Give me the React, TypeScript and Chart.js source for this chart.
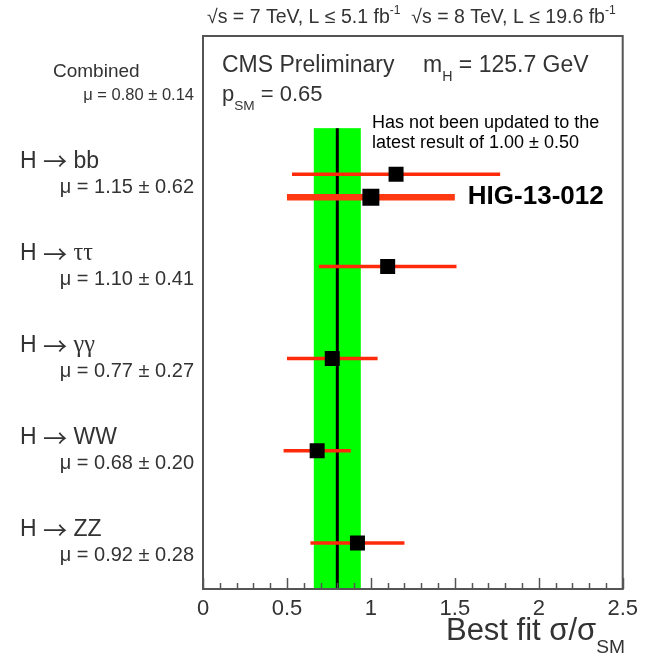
import { useEffect, useRef } from 'react';
import { Chart, registerables } from 'chart.js';

Chart.register(...registerables);

// Signal strength per decay channel (row 0 is the combined fit)
const channelNames = ['Combined', 'H → bb', 'H → ττ', 'H → γγ', 'H → WW', 'H → ZZ'];
const muValues = [0.8, 1.15, 1.1, 0.77, 0.68, 0.92];
const muErrors = [0.14, 0.62, 0.41, 0.27, 0.2, 0.28];
const rowPositions = [0, 1, 2, 3, 4, 5];

// Updated bb result, drawn just under the bb row
const updatedValue = 1.0;
const updatedError = 0.5;
const updatedRow = 1.25;
const updatedLabel = 'HIG-13-012';
const updatedNote = ['Has not been updated to the', 'latest result of 1.00 ± 0.50'];

const xTickValues = [0, 0.5, 1, 1.5, 2, 2.5];
const xTickLabels = ['0', '0.5', '1', '1.5', '2', '2.5'];

const FONT = '"Liberation Sans", Arial, Helvetica, sans-serif';
const ARROW_FONT = '"Noto Sans CJK JP", "DejaVu Sans", sans-serif';
const GREEK_FONT = '"Liberation Serif", "DejaVu Serif", serif';
const TEXT_GRAY = '#333333';
const BAR_RED = '#ff2a0a';
const BAND_GREEN = '#00ff00';

type Part = { t: string; sub?: boolean; sup?: boolean; font?: string; scale?: number; drop?: number };

function drawRich(
  ctx: CanvasRenderingContext2D,
  parts: Part[],
  x: number,
  y: number,
  size: number,
  color: string,
  align: 'left' | 'right' = 'left',
  weight = 'normal',
) {
  ctx.save();
  ctx.fillStyle = color;
  ctx.textBaseline = 'middle';
  ctx.textAlign = 'left';
  const sizeOf = (p: Part) => (p.sub || p.sup ? size * 0.62 : size) * (p.scale ?? 1);
  const widths = parts.map((p) => {
    ctx.font = `${weight} ${sizeOf(p)}px ${p.font ?? FONT}`;
    return ctx.measureText(p.t).width;
  });
  const total = widths.reduce((a, b) => a + b, 0);
  let cx = align === 'right' ? x - total : x;
  parts.forEach((p, i) => {
    ctx.font = `${weight} ${sizeOf(p)}px ${p.font ?? FONT}`;
    const dy = p.drop ?? (p.sub ? size * 0.5 : p.sup ? -size * 0.38 : 0);
    ctx.fillText(p.t, cx, y + dy);
    cx += widths[i];
  });
  ctx.restore();
}

// "H → xx" with the arrow and Greek letters set in their own fonts
function channelParts(name: string): Part[] {
  const [head, tail] = name.split(' → ');
  const greek = /[τγ]/.test(tail);
  return [
    { t: head + ' ' },
    { t: '→', font: ARROW_FONT, scale: 1.05 },
    { t: ' ' },
    { t: tail, font: greek ? GREEK_FONT : FONT, scale: greek ? 1.05 : 1 },
  ];
}

const overlayPlugin = {
  id: 'muOverlay',
  beforeDatasetsDraw(chart: any) {
    const { ctx, scales } = chart;
    const xs = scales.x;
    const ys = scales.y;
    // combined 1-sigma band
    const c = muValues[0];
    const e = muErrors[0];
    const x0 = xs.getPixelForValue(c - e);
    const x1 = xs.getPixelForValue(c + e);
    const y0 = ys.getPixelForValue(0.5);
    const y1 = ys.getPixelForValue(5.5);
    ctx.save();
    ctx.fillStyle = BAND_GREEN;
    ctx.fillRect(x0, y0, x1 - x0, y1 - y0);
    ctx.restore();
  },
  afterDraw(chart: any) {
    const { ctx, chartArea, scales } = chart;
    const xs = scales.x;
    const ys = scales.y;
    const { left, right, top, bottom } = chartArea;

    // frame
    ctx.save();
    ctx.strokeStyle = '#555555';
    ctx.lineWidth = 2;
    ctx.strokeRect(left, top, right - left, bottom - top);

    // inward ticks on the x axis
    ctx.lineWidth = 1.5;
    for (let i = 0; i <= 25; i++) {
      const v = i / 10;
      const px = Math.round(xs.getPixelForValue(v)) + 0.5;
      const len = i % 5 === 0 ? 11 : 6;
      ctx.beginPath();
      ctx.moveTo(px, bottom);
      ctx.lineTo(px, bottom - len);
      ctx.stroke();
    }
    ctx.restore();

    // header
    drawRich(
      ctx,
      [
        { t: '√s = 7 TeV, L ≤ 5.1 fb' },
        { t: '-1', sup: true },
        { t: '  √s = 8 TeV, L ≤ 19.6 fb' },
        { t: '-1', sup: true },
      ],
      207,
      18,
      19.5,
      TEXT_GRAY,
    );

    // labels inside the frame
    drawRich(ctx, [{ t: 'CMS Preliminary' }], 222, 66, 23, TEXT_GRAY);
    drawRich(ctx, [{ t: 'm' }, { t: 'H', sub: true }, { t: ' = 125.7 GeV' }], 423, 66, 23, TEXT_GRAY);
    drawRich(ctx, [{ t: 'p' }, { t: 'SM', sub: true }, { t: ' = 0.65' }], 222, 95, 22, TEXT_GRAY);

    updatedNote.forEach((line, i) => {
      drawRich(ctx, [{ t: line }], 372, 123 + i * 20, 18, '#000000');
    });
    drawRich(
      ctx,
      [{ t: updatedLabel }],
      xs.getPixelForValue(updatedValue + updatedError) + 13,
      ys.getPixelForValue(updatedRow),
      26,
      '#000000',
      'left',
      'bold',
    );

    // channel labels on the left
    channelNames.forEach((name, i) => {
      const py = ys.getPixelForValue(rowPositions[i]);
      const muText = `μ = ${muValues[i].toFixed(2)} ± ${muErrors[i].toFixed(2)}`;
      if (i === 0) {
        drawRich(ctx, [{ t: name }], 53, py - 10, 19, TEXT_GRAY);
        drawRich(ctx, [{ t: muText }], 194, py + 13, 16.5, TEXT_GRAY, 'right');
      } else {
        drawRich(ctx, channelParts(name), 20, py - 13, 23, TEXT_GRAY);
        drawRich(ctx, [{ t: muText }], 194, py + 13, 20, TEXT_GRAY, 'right');
      }
    });

    // x axis title
    drawRich(
      ctx,
      [{ t: 'Best fit σ/σ' }, { t: 'SM', sub: true, drop: 17 }],
      625,
      631,
      31,
      TEXT_GRAY,
      'right',
    );
  },
};

export default function App() {
  const canvasRef = useRef<HTMLCanvasElement | null>(null);

  useEffect(() => {
    if (!canvasRef.current) return;

    const errorBarSets = rowPositions.slice(1).map((row, k) => {
      const i = k + 1;
      return {
        type: 'line' as const,
        data: [
          { x: muValues[i] - muErrors[i], y: row },
          { x: muValues[i] + muErrors[i], y: row },
        ],
        borderColor: BAR_RED,
        borderWidth: 3.5,
        pointRadius: 0,
        order: 2,
      };
    });

    const chart = new Chart(canvasRef.current, {
      type: 'scatter',
      data: {
        datasets: [
          {
            type: 'scatter',
            data: rowPositions.slice(1).map((row, k) => ({ x: muValues[k + 1], y: row })),
            pointStyle: 'rect',
            pointRadius: 10.6,
            backgroundColor: '#000000',
            borderColor: '#000000',
            borderWidth: 0,
            order: 0,
          },
          {
            type: 'scatter',
            data: [{ x: updatedValue, y: updatedRow }],
            pointStyle: 'rect',
            pointRadius: 12,
            backgroundColor: '#000000',
            borderColor: '#000000',
            borderWidth: 0,
            order: 0,
          },
          ...errorBarSets,
          {
            type: 'line',
            data: [
              { x: updatedValue - updatedError, y: updatedRow },
              { x: updatedValue + updatedError, y: updatedRow },
            ],
            borderColor: '#ff3a12',
            borderWidth: 6.5,
            pointRadius: 0,
            order: 2,
          },
          {
            type: 'line',
            data: [
              { x: muValues[0], y: 0.5 },
              { x: muValues[0], y: 5.5 },
            ],
            borderColor: '#000000',
            borderWidth: 3,
            pointRadius: 0,
            order: 3,
          },
        ] as any,
      },
      options: {
        animation: false,
        responsive: false,
        events: [],
        layout: { padding: { left: 203, right: 21, top: 36, bottom: 0 } },
        plugins: {
          legend: { display: false },
          tooltip: { enabled: false },
        },
        scales: {
          x: {
            type: 'linear',
            min: 0,
            max: 2.5,
            afterBuildTicks: (scale: any) => {
              scale.ticks = xTickValues.map((v) => ({ value: v }));
            },
            afterFit: (scale: any) => {
              scale.height = 69;
            },
            grid: { display: false, drawTicks: false },
            border: { display: false },
            ticks: {
              autoSkip: false,
              maxRotation: 0,
              padding: 7,
              color: TEXT_GRAY,
              font: { size: 22, family: FONT },
              callback: (v: any) => {
                const idx = xTickValues.indexOf(Number(v));
                return idx >= 0 ? xTickLabels[idx] : '';
              },
            },
          },
          y: {
            type: 'linear',
            min: -0.5,
            max: 5.5,
            reverse: true,
            display: false,
          },
        },
      },
      plugins: [overlayPlugin],
    });

    return () => chart.destroy();
  }, []);

  return (
    <div style={{ position: 'absolute', left: 0, top: 0, width: 645, height: 658, background: '#ffffff' }}>
      <canvas ref={canvasRef} width={645} height={658} style={{ display: 'block' }} />
    </div>
  );
}
